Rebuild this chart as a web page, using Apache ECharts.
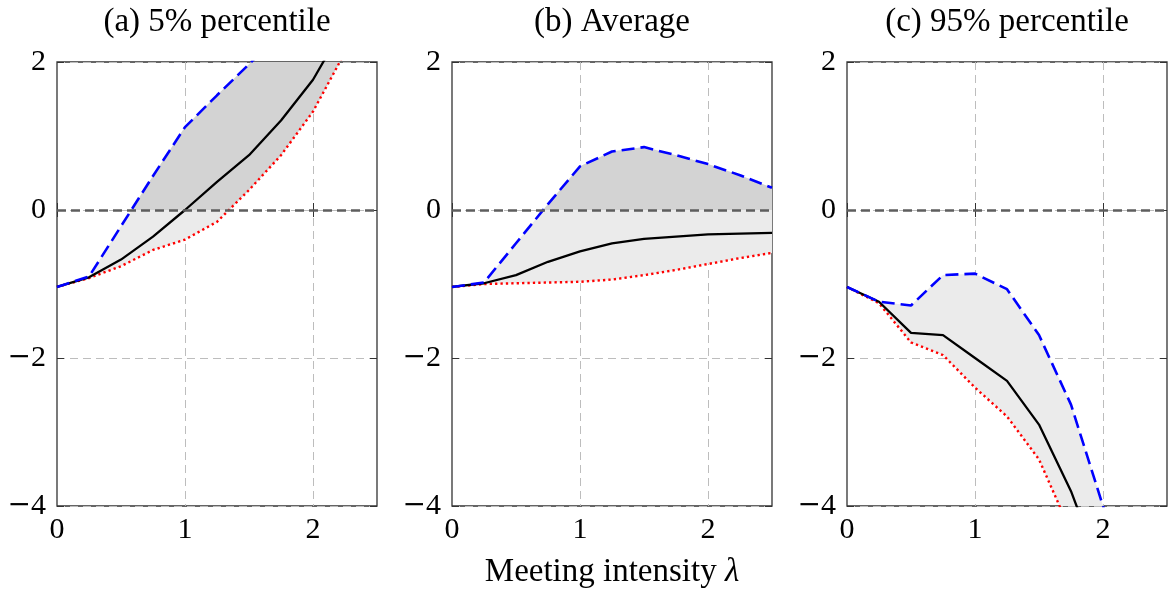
<!DOCTYPE html>
<html><head><meta charset="utf-8">
<script src="https://cdn.jsdelivr.net/npm/echarts@6/dist/echarts.min.js"></script>
<style>html,body{margin:0;padding:0;background:#fff}#c{width:1168px;height:590px}</style>
</head><body><div id="c"></div>
<script>
// ---- data ----
const lambdaX = [0, 0.25, 0.5, 0.75, 1, 1.25, 1.5, 1.75, 2, 2.25, 2.5];
const xTicks = [0, 1, 2];
const yTicks = [-4, -2, 0, 2];
const panelTitles = ['(a) 5% percentile', '(b) Average', '(c) 95% percentile'];
const xAxisTitle = 'Meeting intensity ';
const xAxisSymbol = 'λ';

// (a) 5% percentile
const upperA = [-1.04, -0.90, -0.22, 0.46, 1.12, 1.55, 1.97, 2.40, 2.80, 3.20, 3.60];
const meanA  = [-1.04, -0.91, -0.67, -0.36, 0.00, 0.38, 0.74, 1.21, 1.76, 2.51, 3.30];
const lowerA = [-1.04, -0.92, -0.76, -0.54, -0.40, -0.16, 0.27, 0.74, 1.33, 2.13, 2.90];
// (b) Average
const upperB = [-1.04, -0.98, -0.45, 0.08, 0.59, 0.79, 0.85, 0.74, 0.62, 0.47, 0.30];
const meanB  = [-1.04, -0.99, -0.88, -0.70, -0.56, -0.45, -0.39, -0.36, -0.33, -0.32, -0.31];
const lowerB = [-1.04, -1.00, -0.99, -0.98, -0.97, -0.94, -0.88, -0.81, -0.73, -0.65, -0.58];
// (c) 95% percentile
const upperC = [-1.04, -1.24, -1.29, -0.88, -0.86, -1.07, -1.69, -2.63, -4.00, -5.40, -6.80];
const meanC  = [-1.04, -1.24, -1.66, -1.69, -2.00, -2.31, -2.90, -3.80, -4.95, -6.10, -7.30];
const lowerC = [-1.04, -1.26, -1.79, -1.96, -2.40, -2.79, -3.37, -4.35, -5.40, -6.50, -7.60];

// ---- layout / style ----
const FONT = '"Liberation Serif", "DejaVu Serif", serif';
const lefts = [57, 452, 847];
const W = 320, TOP = 62, H = 444;
const yMin = yTicks[0], yMax = yTicks[yTicks.length - 1];
const cats = lambdaX.map(String);
const isTick = (i) => xTicks.indexOf(lambdaX[i]) >= 0;
const fmtNum = (v) => (v < 0 ? '{m|\u2212}{d|' + Math.abs(v) + '}' : '{d|' + v + '}');
const labelRich = {
  m: { fontFamily: '"DejaVu Serif"', fontSize: 28, color: '#000' },
  d: { fontFamily: FONT, fontSize: 30, color: '#000' }
};
const FRAME = '#333333';
const GRIDC = '#bdbdbd';

const panels = [
  { title: panelTitles[0], upper: upperA, mean: meanA, lower: lowerA },
  { title: panelTitles[1], upper: upperB, mean: meanB, lower: lowerB },
  { title: panelTitles[2], upper: upperC, mean: meanC, lower: lowerC }
];

const grid = [], xAxis = [], yAxis = [], series = [], title = [];

panels.forEach((p, k) => {
  const gMain = grid.length;
  grid.push({ left: lefts[k], top: TOP, width: W, height: H, show: true, borderColor: FRAME, borderWidth: 1.3 });
  const gUp = grid.length;
  grid.push({ left: lefts[k], top: TOP, width: W, height: H * (yMax - 0) / (yMax - yMin), show: false });

  const xMainIdx = xAxis.length;
  xAxis.push({
    type: 'category', gridIndex: gMain, data: cats, boundaryGap: false,
    axisLine: { show: false },
    axisTick: { show: true, inside: true, length: 7, interval: (i) => isTick(i), lineStyle: { color: FRAME } },
    axisLabel: { interval: (i) => isTick(i), formatter: (v) => fmtNum(Number(v)), rich: labelRich, margin: 9 },
    splitLine: { show: true, interval: (i) => isTick(i) && lambdaX[i] !== 0, lineStyle: { color: GRIDC, width: 1, type: [8, 5] } }
  });
  xAxis.push({
    type: 'category', gridIndex: gMain, data: cats, boundaryGap: false, position: 'top',
    axisLine: { show: false }, axisLabel: { show: false }, splitLine: { show: false },
    axisTick: { show: true, inside: true, length: 7, interval: (i) => isTick(i), lineStyle: { color: FRAME } }
  });
  const yMainIdx = yAxis.length;
  yAxis.push({
    type: 'value', gridIndex: gMain, min: yMin, max: yMax, interval: 2,
    axisLine: { show: false },
    axisTick: { show: true, inside: true, length: 7, lineStyle: { color: FRAME } },
    axisLabel: { formatter: fmtNum, rich: labelRich, margin: 11 },
    splitLine: { show: true, lineStyle: { color: GRIDC, width: 1, type: [8, 5] } }
  });
  yAxis.push({
    type: 'value', gridIndex: gMain, min: yMin, max: yMax, interval: 2, position: 'right',
    axisLine: { show: false }, axisLabel: { show: false }, splitLine: { show: false },
    axisTick: { show: true, inside: true, length: 7, lineStyle: { color: FRAME } }
  });
  const xUpIdx = xAxis.length;
  xAxis.push({ type: 'category', gridIndex: gUp, data: cats, boundaryGap: false, show: false });
  const yUpIdx = yAxis.length;
  yAxis.push({ type: 'value', gridIndex: gUp, min: 0, max: yMax, show: false });

  const diff = p.upper.map((u, i) => +(u - p.lower[i]).toFixed(4));
  const hidden = { lineStyle: { opacity: 0, width: 0 }, showSymbol: false, symbol: 'none', silent: true };

  // light band between upper and lower
  series.push(Object.assign({ type: 'line', xAxisIndex: xMainIdx, yAxisIndex: yMainIdx, stack: 'm' + k, stackStrategy: 'all', data: p.lower }, hidden));
  series.push(Object.assign({ type: 'line', xAxisIndex: xMainIdx, yAxisIndex: yMainIdx, stack: 'm' + k, stackStrategy: 'all', data: diff,
    areaStyle: { color: '#ebebeb', opacity: 1 } }, hidden));
  // dark band, clipped to y >= 0 by the overlay grid
  series.push(Object.assign({ type: 'line', xAxisIndex: xUpIdx, yAxisIndex: yUpIdx, stack: 'u' + k, stackStrategy: 'all', data: p.lower }, hidden));
  series.push(Object.assign({ type: 'line', xAxisIndex: xUpIdx, yAxisIndex: yUpIdx, stack: 'u' + k, stackStrategy: 'all', data: diff,
    areaStyle: { color: '#d3d3d3', opacity: 1 } }, hidden));

  series.push({ type: 'line', xAxisIndex: xMainIdx, yAxisIndex: yMainIdx, data: p.lower, symbol: 'none', silent: true,
    lineStyle: { color: '#ff0000', width: 2.4, type: [2.3, 3.1] },
    markLine: { silent: true, symbol: 'none', label: { show: false },
      lineStyle: { color: '#5e5e5e', width: 2.5, type: [9, 5] }, data: [{ yAxis: 0 }] } });
  series.push({ type: 'line', xAxisIndex: xMainIdx, yAxisIndex: yMainIdx, data: p.mean, symbol: 'none', silent: true,
    lineStyle: { color: '#000000', width: 2.3 } });
  series.push({ type: 'line', xAxisIndex: xMainIdx, yAxisIndex: yMainIdx, data: p.upper, symbol: 'none', silent: true,
    lineStyle: { color: '#0000ff', width: 2.6, type: [13, 6] } });

  title.push({ text: p.title, left: lefts[k] + W / 2, top: 6, textAlign: 'center', padding: 0,
    textStyle: { fontFamily: FONT, fontSize: 33, fontWeight: 'normal', color: '#000' } });
});

title.push({ text: '{n|' + xAxisTitle + '}{l|' + xAxisSymbol + '}', left: (lefts[0] + lefts[2] + W) / 2, top: 556, textAlign: 'center', padding: 0,
  textStyle: { fontWeight: 'normal', rich: {
    n: { fontFamily: FONT, fontSize: 33, fontWeight: 'normal', color: '#000' },
    l: { fontFamily: FONT, fontSize: 33, fontWeight: 'normal', fontStyle: 'italic', color: '#000' } } } });

const chart = echarts.init(document.getElementById('c'), null, { renderer: 'canvas' });
chart.setOption({ animation: false, backgroundColor: '#fff', title, grid, xAxis, yAxis, series });
</script>
</body></html>
